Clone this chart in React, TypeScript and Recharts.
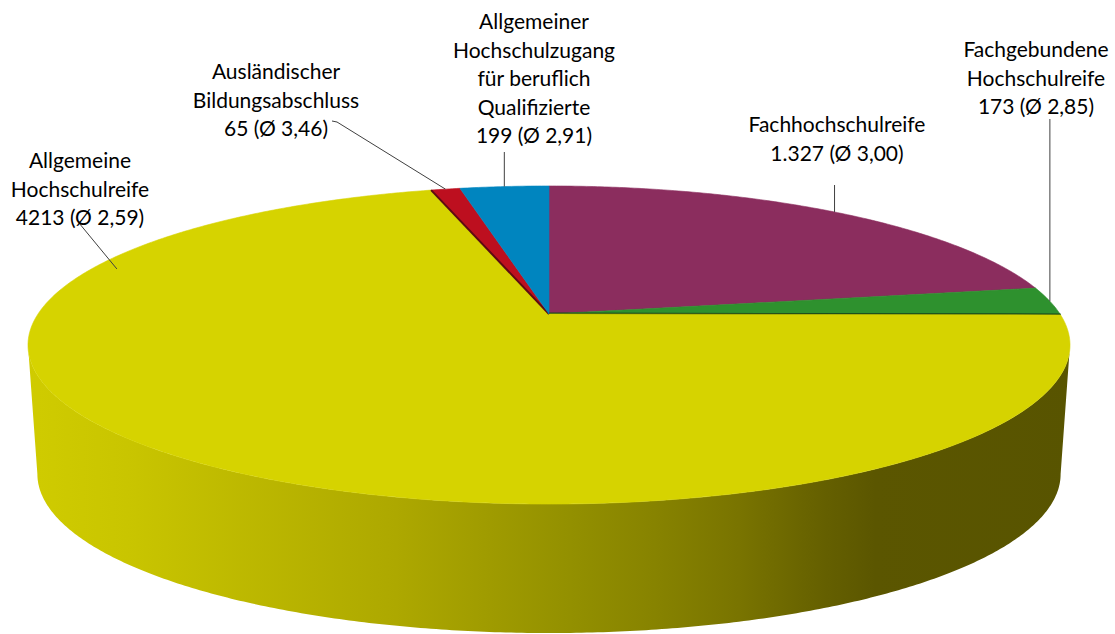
import React from 'react';
import { PieChart, Pie } from 'recharts';

// ---- data ----
const CATEGORIES = [
  'Fachhochschulreife',
  'Fachgebundene Hochschulreife',
  'Allgemeine Hochschulreife',
  'Ausländischer Bildungsabschluss',
  'Allgemeiner Hochschulzugang für beruflich Qualifizierte',
];
const COUNTS = [1327, 173, 4213, 65, 199];
const COUNT_LABELS = ['1.327', '173', '4213', '65', '199'];
const AVERAGES = ['3,00', '2,85', '2,59', '3,46', '2,91'];
const LABEL_LINES = [
  ['Fachhochschulreife'],
  ['Fachgebundene', 'Hochschulreife'],
  ['Allgemeine', 'Hochschulreife'],
  ['Ausländischer', 'Bildungsabschluss'],
  ['Allgemeiner', 'Hochschulzugang', 'für beruflich', 'Qualifizierte'],
];

// ---- styles / layout ----
const TOP_COLORS = ['#8B2D5E', '#2E912E', '#D6D300', '#BD0F1F', '#0085BF'];
const WALL_COLORS = ['#5a1d3c', '#1e5e1e', 'url(#wallGradYellow)', '#7a0a14', '#005780'];
const EDGES: Record<number, { side: 'start' | 'end'; color: string; width: number }> = {
  1: { side: 'end', color: '#1b4a1b', width: 3 },
  3: { side: 'start', color: '#5e0b12', width: 2 },
};
const LABEL_LAYOUT = [
  { x: 837, y: 132, vertical: 185 },
  { x: 1036, y: 57, vertical: 119 },
  { x: 80, y: 168, from: [[79, 223]], anchor: { angle: 160.8, r: 0.95 } },
  { x: 276, y: 79, from: [[332, 121], [337, 122]] },
  { x: 534, y: 29, vertical: 152 },
];
const LINE_GAP = 28.5;
const FONT = 'Lato, "Open Sans", sans-serif';

// perspective projection of the pie disk
const K = 0.195; // perspective strength
const FLAT = 0.2994; // minor/major axis ratio
const DEPTH = 0.2524; // wall height relative to radius
const BOTTOM_SCALE = 0.982;
const SIL = (Math.asin(K) * 180) / Math.PI; // silhouette angle offset

function proj(cx: number, cy: number, R: number, angleDeg: number, r = 1) {
  const a = (angleDeg * Math.PI) / 180;
  const u = Math.cos(a) * r;
  const v = -Math.sin(a) * r;
  const w = 1 / (1 - K * v);
  return { x: cx + R * u * w, y: cy + R * FLAT * v * w };
}

function sampleAngles(a1: number, a2: number) {
  const n = Math.max(2, Math.ceil(Math.abs(a2 - a1) / 0.5));
  const out: number[] = [];
  for (let i = 0; i <= n; i++) out.push(a1 + ((a2 - a1) * i) / n);
  return out;
}

function idxOf(props: any) {
  const name = props.name ?? props.payload?.name;
  return CATEGORIES.indexOf(name);
}

const WallShape = (props: any) => {
  const { cx, cy, outerRadius: R, startAngle, endAngle } = props;
  const i = idxOf(props);
  const lo = Math.max(Math.min(startAngle, endAngle), -180 + SIL);
  const hi = Math.min(Math.max(startAngle, endAngle), -SIL);
  const x1 = cx - R * 1.03;
  const x2 = cx + R * 1.03;
  const defs = (
    <defs>
      <linearGradient id="wallGradYellow" gradientUnits="userSpaceOnUse" x1={x1} y1={0} x2={x2} y2={0}>
        <stop offset="0" stopColor="#D0CC00" />
        <stop offset="0.1" stopColor="#C9C500" />
        <stop offset="0.355" stopColor="#ADA800" />
        <stop offset="0.52" stopColor="#939000" />
        <stop offset="0.6" stopColor="#878300" />
        <stop offset="0.68" stopColor="#797400" />
        <stop offset="0.76" stopColor="#656000" />
        <stop offset="0.81" stopColor="#5B5600" />
        <stop offset="1" stopColor="#585400" />
      </linearGradient>
    </defs>
  );
  if (hi <= lo) return <g>{defs}</g>;
  const angles = sampleAngles(lo, hi);
  const top = angles.map((a) => proj(cx, cy, R, a));
  const bottom = top
    .map((p) => ({ x: cx + (p.x - cx) * BOTTOM_SCALE, y: p.y + R * DEPTH }))
    .reverse();
  const d =
    'M' +
    top.map((p) => `${p.x.toFixed(2)},${p.y.toFixed(2)}`).join(' L') +
    ' L' +
    bottom.map((p) => `${p.x.toFixed(2)},${p.y.toFixed(2)}`).join(' L') +
    ' Z';
  return (
    <g>
      {defs}
      <path d={d} fill={WALL_COLORS[i]} stroke="none" />
    </g>
  );
};

const TopShape = (props: any) => {
  const { cx, cy, outerRadius: R, startAngle, endAngle } = props;
  const i = idxOf(props);
  const pts = sampleAngles(startAngle, endAngle).map((a) => proj(cx, cy, R, a));
  const d =
    `M${cx},${cy} L` + pts.map((p) => `${p.x.toFixed(2)},${p.y.toFixed(2)}`).join(' L') + ' Z';
  const edge = EDGES[i];
  let edgeLine = null;
  if (edge) {
    const p = proj(cx, cy, R, edge.side === 'start' ? startAngle : endAngle);
    edgeLine = (
      <line x1={cx} y1={cy} x2={p.x} y2={p.y} stroke={edge.color} strokeWidth={edge.width} />
    );
  }
  return (
    <g>
      <path d={d} fill={TOP_COLORS[i]} stroke={TOP_COLORS[i]} strokeWidth={0.6} />
      {edgeLine}
    </g>
  );
};

const renderLabel = (props: any) => {
  const { cx, cy, outerRadius: R, midAngle } = props;
  const i = idxOf(props);
  if (i < 0) return null;
  const lay: any = LABEL_LAYOUT[i];
  const anchor = lay.anchor
    ? proj(cx, cy, R, lay.anchor.angle, lay.anchor.r)
    : proj(cx, cy, R, midAngle, 1);
  const pts: number[][] = lay.vertical !== undefined
    ? [[anchor.x, lay.vertical]]
    : lay.from;
  const all = [...pts, [anchor.x, anchor.y]];
  const lines = [...LABEL_LINES[i], `${COUNT_LABELS[i]} (Ø ${AVERAGES[i]})`];
  return (
    <g key={`lbl-${i}`}>
      <polyline
        points={all.map((p) => `${p[0]},${p[1]}`).join(' ')}
        fill="none"
        stroke="#404040"
        strokeWidth={1}
      />
      <text
        x={lay.x}
        y={lay.y}
        textAnchor="middle"
        fill="#000"
        fontFamily={FONT}
        fontSize={21}
      >
        {lines.map((t, j) => (
          <tspan key={j} x={lay.x} y={lay.y + j * LINE_GAP}>
            {t}
          </tspan>
        ))}
      </text>
    </g>
  );
};

const data = CATEGORIES.map((name, i) => ({ name, value: COUNTS[i] }));

export default function App() {
  return (
    <div style={{ position: 'absolute', left: 0, top: 0, width: 1115, height: 634, background: '#fff' }}>
      <PieChart width={1115} height={634} margin={{ top: 0, right: 0, bottom: 0, left: 0 }}>
        <Pie
          data={data}
          dataKey="value"
          nameKey="name"
          cx={549}
          cy={314}
          outerRadius={511}
          startAngle={90}
          endAngle={-270}
          isAnimationActive={false}
          shape={WallShape}
          activeShape={WallShape}
          inactiveShape={WallShape}
          stroke="none"
          labelLine={false}
        />
        <Pie
          data={data}
          dataKey="value"
          nameKey="name"
          cx={549}
          cy={314}
          outerRadius={511}
          startAngle={90}
          endAngle={-270}
          isAnimationActive={false}
          shape={TopShape}
          activeShape={TopShape}
          inactiveShape={TopShape}
          stroke="none"
          label={renderLabel}
          labelLine={false}
        />
      </PieChart>
    </div>
  );
}
